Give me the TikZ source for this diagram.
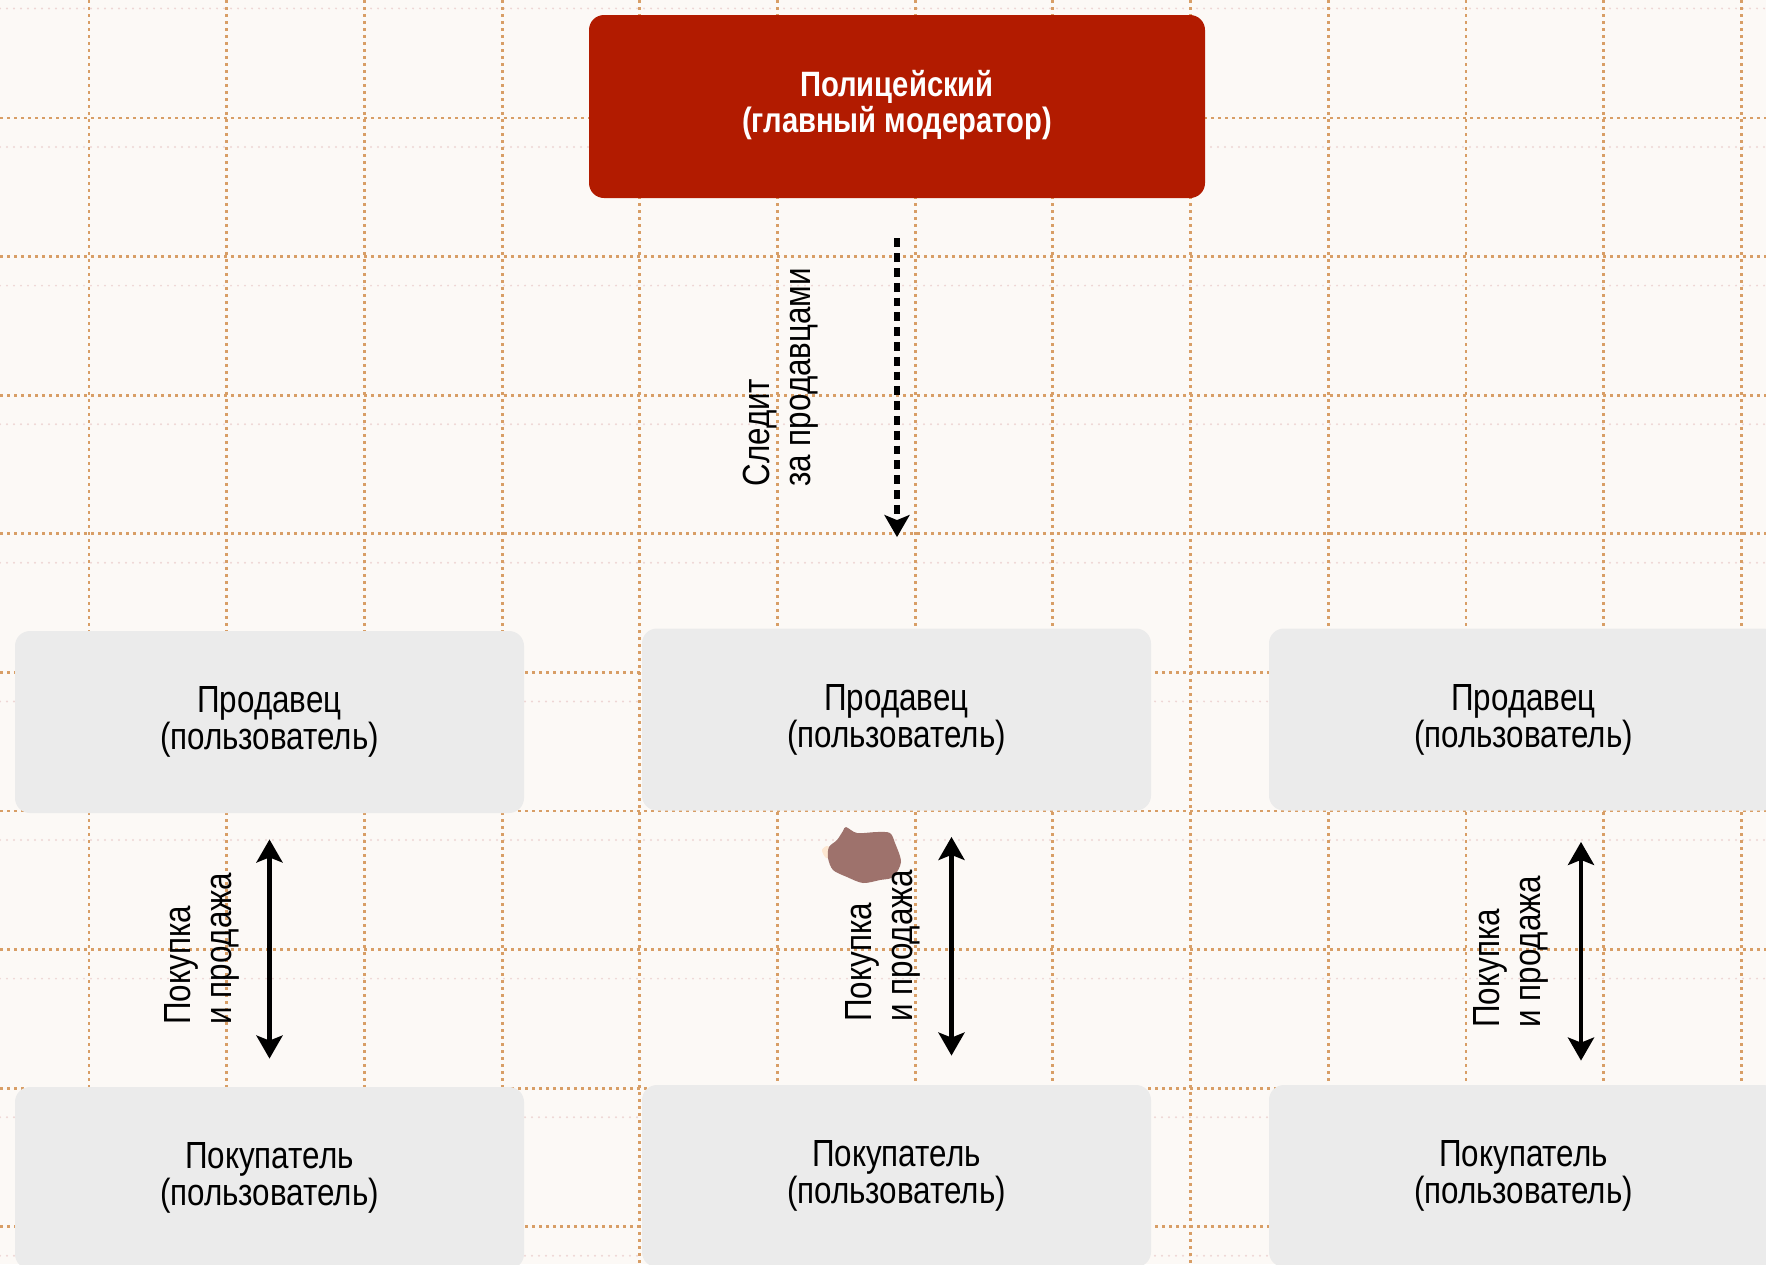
\documentclass[tikz,border=0pt]{standalone}
\usepackage{fontspec}
\setmainfont{Liberation Sans}[FakeStretch=0.83]
\usetikzlibrary{arrows.meta}
\definecolor{paper}{RGB}{252,249,246}
\definecolor{gridorange}{RGB}{216,158,102}
\definecolor{gridpink}{RGB}{238,214,212}
\definecolor{policered}{RGB}{178,27,0}
\definecolor{boxgray}{RGB}{235,235,235}
\definecolor{stain}{RGB}{158,114,108}
\begin{document}
\begin{tikzpicture}[x=0.5pt,y=-0.5pt,
  gridline/.style={gridorange, line width=1.45pt, dash pattern=on 1.4pt off 2.1pt},
  faintline/.style={gridpink, line width=1.1pt, line cap=round, dash pattern=on 0pt off 3.5pt},
  chief/.style={fill=policered, text=white, rounded corners=7.5pt, minimum width=308pt,
    minimum height=91.5pt, align=center, inner sep=0pt,
    font=\bfseries\fontsize{17.6}{17.5}\selectfont},
  member/.style={fill=boxgray, rounded corners=7.5pt, minimum width=254.5pt,
    minimum height=91pt, align=center, inner sep=0pt,
    font=\fontsize{18.9}{18.5}\selectfont},
  sidelabel/.style={rotate=90, anchor=west, align=left, inner sep=0pt,
    font=\fontsize{18.9}{20.5}\selectfont},
  watch/.style={-{Stealth[length=11pt,width=12.5pt,inset=2.5pt]}, line width=2.6pt,
    dash pattern=on 4.4pt off 3pt},
  trade/.style={{Stealth[length=11.5pt,width=13pt,inset=2.5pt]}-{Stealth[length=11.5pt,width=13pt,inset=2.5pt]},
    line width=2.3pt}
]
% paper
\fill[paper] (0,0) rectangle (1766,1264);
\useasboundingbox (0,0) rectangle (1766,1264);
\clip (0,0) rectangle (1766,1264);

% squared grid of the sheet
\foreach \j in {-1,...,8}
  \draw[faintline] (0,{147+138.6*\j}) -- (1766,{147+138.6*\j});
\foreach \i in {0,...,12}
  \draw[gridline] ({89+137.7*\i},0) -- ({89+137.7*\i},1264);
\foreach \j in {0,...,8}
  \draw[gridline] (0,{118+138.6*\j}) -- (1766,{118+138.6*\j});

% blot on the sheet
\fill[orange!45, opacity=0.35] plot[smooth cycle] coordinates {
  (822,850) (828,846) (832,856) (826,858)};
\fill[stain] plot[smooth cycle] coordinates {
  (843,831) (846,827) (857,833) (877,832) (890,833) (895,843) (901,862)
  (893,877) (880,880) (863,883) (847,877) (833,870) (828,858) (829,847)
  (837,840)};

% boxes
\node[chief] (police) at (897,106.5) {\raisebox{1.6pt}{\begin{tabular}{@{}c@{}}Полицейский\\(главный модератор)\end{tabular}}};
\node[member] (seller1) at (269.5,722) {Продавец\\(пользователь)};
\node[member] (seller2) at (896.5,719.5) {Продавец\\(пользователь)};
\node[member] (seller3) at (1523.5,719.5) {Продавец\\(пользователь)};
\node[member] (buyer1) at (269.5,1178) {Покупатель\\(пользователь)};
\node[member] (buyer2) at (896.5,1176) {Покупатель\\(пользователь)};
\node[member] (buyer3) at (1523.5,1176) {Покупатель\\(пользователь)};

% connectors
\draw[watch, shorten <=20pt, shorten >=45.5pt] (police.south) -- (police.south |- seller2.north);
\draw[trade, shorten <=13pt, shorten >=14pt] (seller1.south) -- (buyer1.north);
\draw[trade, shorten <=13pt, shorten >=14.5pt] ([xshift=27.5pt]seller2.south) -- ([xshift=27.5pt]buyer2.north);
\draw[trade, shorten <=15.5pt, shorten >=12pt] ([xshift=28.75pt]seller3.south) -- ([xshift=28.75pt]buyer3.north);

% connector labels
\node[sidelabel] (watchlabel) at (781,487) {Следит\\за продавцами};
\node[sidelabel] (tradelabel1) at (202,1025) {Покупка\\и продажа};
\node[sidelabel] (tradelabel2) at (883,1022) {Покупка\\и продажа};
\node[sidelabel] (tradelabel3) at (1511,1028) {Покупка\\и продажа};
\end{tikzpicture}
\end{document}
